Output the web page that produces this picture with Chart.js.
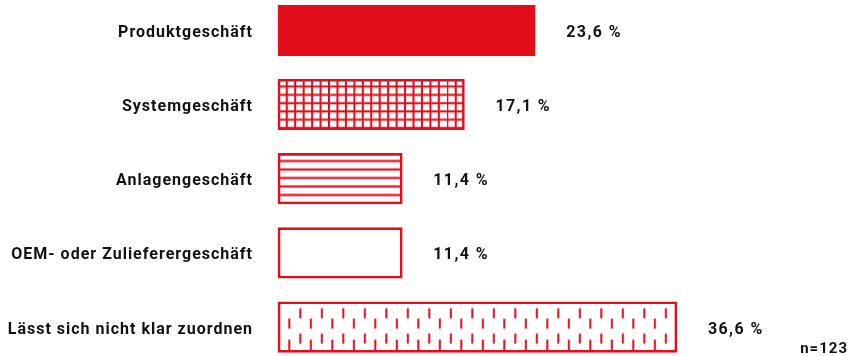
<!DOCTYPE html>
<html lang="de">
<head>
<meta charset="utf-8">
<title>Geschäftstyp</title>
<script src="https://cdn.jsdelivr.net/npm/chart.js@4/dist/chart.umd.min.js"></script>
<style>
  html, body { margin: 0; padding: 0; background: #ffffff; }
  #wrap { position: relative; width: 850px; height: 356px; }
</style>
</head>
<body>
<div id="wrap"><canvas id="chart" width="850" height="356"></canvas></div>
<script>
// Data
const categories = [
  'Produktgeschäft',
  'Systemgeschäft',
  'Anlagengeschäft',
  'OEM- oder Zulieferergeschäft',
  'Lässt sich nicht klar zuordnen'
];
const shares = [23.6, 17.1, 11.4, 11.4, 36.6];
const sampleSize = 123;

// Fill style for each bar
const fillKinds = ['solid', 'grid', 'lines', 'plain', 'dashes'];

const RED = '#e20e1a';
const INK = '#111111';
const FONT = 'Roboto, "Liberation Sans", sans-serif';
const BAR_H = 50.5;
const SPACING = '1px';

function tile(w, h, draw) {
  const c = document.createElement('canvas');
  c.width = w; c.height = h;
  const g = c.getContext('2d');
  g.fillStyle = '#ffffff';
  g.fillRect(0, 0, w, h);
  g.fillStyle = RED;
  draw(g);
  return c;
}

const tiles = {
  // square grid
  grid: tile(169, 166, g => {
    for (let k = 0; k < 20; k++) g.fillRect(0.3 + k * 8.45 - 1, 0, 2, 166);
    for (let k = 0; k < 20; k++) g.fillRect(0, 7.2 + k * 8.3 - 1, 169, 2.1);
  }),
  // horizontal stripes
  lines: tile(10, 170, g => {
    for (let k = 0; k < 20; k++) g.fillRect(0, 7.5 + k * 8.5 - 1.1, 10, 2.2);
  }),
  // staggered short dashes
  dashes: tile(43, 60, g => {
    const w = 2;
    [0.3, 21.8].forEach(x => {
      g.fillRect(x, 6.5, w, 10);
      g.fillRect(x, 31.7, w, 10);
    });
    [10.8, 32.3].forEach(x => {
      g.fillRect(x, 16.7, w, 10);
      g.fillRect(x, 37.7, w, 12);
    });
  })
};
const tileShift = { grid: 0, lines: 0, dashes: 21 };

function barFill(c) {
  const kind = fillKinds[c.dataIndex];
  if (kind === undefined || kind === 'plain') return '#ffffff';
  if (kind === 'solid') return RED;
  const chart = c.chart;
  const xs = chart.scales.x, ys = chart.scales.y;
  if (!xs || !ys) return '#ffffff';
  const top = ys.getPixelForValue(c.dataIndex) - BAR_H / 2;
  const left = xs.getPixelForValue(0);
  const pat = chart.ctx.createPattern(tiles[kind], 'repeat');
  pat.setTransform(new DOMMatrix().translate(left + tileShift[kind], top));
  return pat;
}

const fmt = v => v.toFixed(1).replace('.', ',') + ' %';

const spacingPlugin = {
  id: 'spacing',
  beforeUpdate(chart) { chart.ctx.letterSpacing = SPACING; },
  beforeDraw(chart) { chart.ctx.letterSpacing = SPACING; }
};

const valueLabels = {
  id: 'valueLabels',
  afterDatasetsDraw(chart) {
    const ctx = chart.ctx;
    const meta = chart.getDatasetMeta(0);
    ctx.save();
    ctx.letterSpacing = '1.4px';
    ctx.font = `bold 16px ${FONT}`;
    ctx.fillStyle = INK;
    ctx.textAlign = 'left';
    ctx.textBaseline = 'middle';
    meta.data.forEach((bar, i) => {
      ctx.fillText(fmt(shares[i]), bar.x + 31, bar.y + 2.5);
    });
    // sample size, bottom right
    ctx.letterSpacing = '1px';
    ctx.font = `bold 15px ${FONT}`;
    ctx.textAlign = 'right';
    ctx.textBaseline = 'alphabetic';
    ctx.fillText('n=' + sampleSize, 848, 353);
    ctx.restore();
  }
};

new Chart(document.getElementById('chart'), {
  type: 'bar',
  data: {
    labels: categories,
    datasets: [{
      data: shares,
      backgroundColor: barFill,
      borderColor: RED,
      borderWidth: 2.6,
      borderSkipped: false,
      barThickness: BAR_H,
      clip: false
    }]
  },
  options: {
    indexAxis: 'y',
    responsive: false,
    animation: false,
    layout: { padding: { top: 30.3, bottom: 28.9, left: 0, right: 27 } },
    plugins: { legend: { display: false }, tooltip: { enabled: false } },
    scales: {
      x: { min: 0, max: 50, display: false },
      y: {
        offset: false,
        grid: { display: false, drawTicks: false },
        border: { display: false },
        ticks: {
          padding: 25,
          labelOffset: 2.5,
          color: INK,
          font: { family: FONT, size: 16, weight: 'bold' }
        },
        afterFit(scale) {
          scale.width = 278;
          scale.paddingTop = 0;
          scale.paddingBottom = 0;
        }
      }
    }
  },
  plugins: [spacingPlugin, valueLabels]
});
</script>
</body>
</html>
